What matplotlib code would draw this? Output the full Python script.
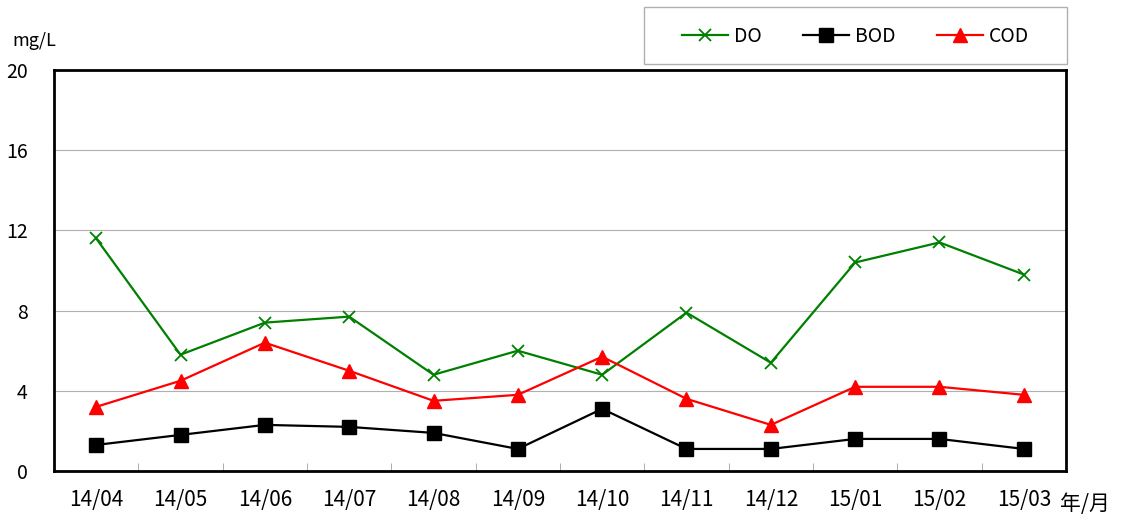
import numpy as np
import matplotlib.pyplot as plt
from matplotlib.patches import Rectangle

plt.rcParams['font.family'] = ['Noto Sans CJK JP', 'DejaVu Sans']

months = ['14/04', '14/05', '14/06', '14/07', '14/08', '14/09',
          '14/10', '14/11', '14/12', '15/01', '15/02', '15/03']
do_vals = [11.6, 5.8, 7.4, 7.7, 4.8, 6.0, 4.8, 7.9, 5.4, 10.4, 11.4, 9.8]
bod_vals = [1.3, 1.8, 2.3, 2.2, 1.9, 1.1, 3.1, 1.1, 1.1, 1.6, 1.6, 1.1]
cod_vals = [3.2, 4.5, 6.4, 5.0, 3.5, 3.8, 5.7, 3.6, 2.3, 4.2, 4.2, 3.8]

W, H = 1121, 517
fig = plt.figure(figsize=(W / 100, H / 100), dpi=100)
ax = fig.add_axes([54 / W, 1 - 471 / H, 1012 / W, 401 / H])

x = np.arange(len(months))
ax.plot(x, do_vals, color='#008000', marker='x', markersize=9, mew=1.3, lw=1.6, label='DO')
ax.plot(x, bod_vals, color='black', marker='s', markersize=10, lw=1.6, label='BOD')
ax.plot(x, cod_vals, color='#ff0000', marker='^', markersize=10, lw=1.6, label='COD')

ax.set_xlim(-0.5, len(months) - 0.5)
ax.set_ylim(0, 20)
ax.set_yticks([0, 4, 8, 12, 16, 20])
ax.yaxis.grid(True, color='#b0b0b0', lw=0.8)
ax.set_axisbelow(True)
ax.tick_params(axis='y', length=0, labelsize=14, pad=19)

# category labels centred, tick marks on the boundaries
ax.set_xticks(x)
ax.set_xticklabels(months, fontsize=15)
ax.tick_params(axis='x', which='major', length=0, pad=13)
ax.set_xticks(np.arange(0.5, len(months) - 0.5), minor=True)
ax.tick_params(axis='x', which='minor', direction='in', length=6, color='#a0a0a0')

for s in ax.spines.values():
    s.set_linewidth(2)

fig.text(12 / W, 1 - 41 / H, 'mg/L', fontsize=13, va='center', ha='left')
fig.text(1060 / W, 1 - 504 / H, '年/月', fontsize=15, va='center', ha='left')

# legend box
fig.patches.append(Rectangle((644 / W, 1 - 64 / H), 423 / W, 57 / H,
                             transform=fig.transFigure, fill=False,
                             edgecolor='#b0b0b0', lw=1))
fig.legend(loc='center', bbox_to_anchor=((644 + 1067) / 2 / W, 1 - 36 / H),
           ncol=3, fontsize=14, frameon=False, handlelength=2.4,
           handletextpad=0.3, columnspacing=2.1)

fig.savefig('out.png', dpi=100)
